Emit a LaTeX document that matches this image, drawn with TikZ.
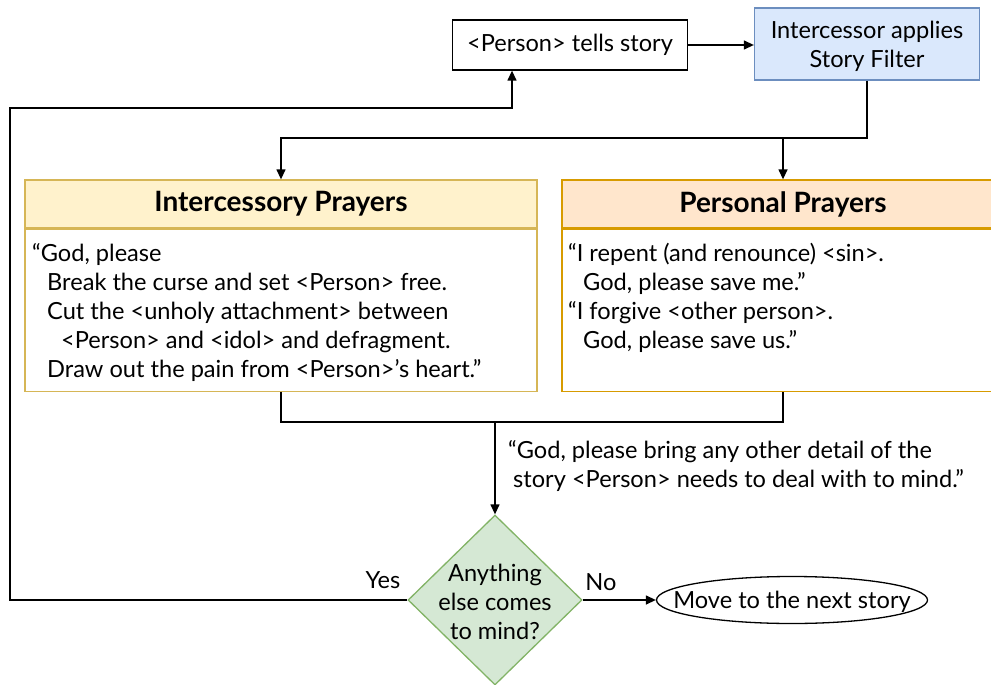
\documentclass[tikz,border=0pt]{standalone}
\usepackage{fontspec}
\setmainfont{Lato}
\usetikzlibrary{arrows.meta, shapes.geometric, calc}

\definecolor{filterfill}{HTML}{DAE8FC}
\definecolor{filterline}{HTML}{6C8EBF}
\definecolor{interfill}{HTML}{FFF2CC}
\definecolor{interline}{HTML}{D6B656}
\definecolor{perfill}{HTML}{FFE6CC}
\definecolor{perline}{HTML}{D79B00}
\definecolor{checkfill}{HTML}{D5E8D4}
\definecolor{checkline}{HTML}{82B366}

\tikzset{
  txt/.style={font=\fontsize{23.6}{29}\selectfont, inner sep=0pt},
  plain/.style={draw, line width=1.3pt, txt},
  head/.style={draw, line width=1.3pt, minimum height=48pt,
    font=\fontsize{28}{29}\selectfont\bfseries},
  flow/.style={line width=1.3pt, -{Triangle[length=10pt,width=9pt]}},
  link/.style={line width=1.3pt}
}

\begin{document}
\begin{tikzpicture}[x=1pt, y=-1pt]
\useasboundingbox (0,0) rectangle (991,685);

% top row
\node[plain, minimum width=235pt, minimum height=50pt] (tells) at (570,45) {<Person> tells story};
\node[plain, fill=filterfill, draw=filterline, minimum width=225pt, minimum height=72pt,
  align=center, text depth=-4pt] (filter) at (867,44) {Intercessor applies\\Story Filter};

% prayer boxes
\node[head, fill=interfill, draw=interline, minimum width=512pt] (interhead) at (281,204) {Intercessory Prayers};
\node[draw=interline, line width=1.3pt, minimum width=512pt, minimum height=162pt,
  anchor=north] (interbody) at (interhead.south) {};
\node[txt, align=left, anchor=north west] (intertext) at (32,243)
  {“God, please\\
   \hspace*{15pt}Break the curse and set <Person> free.\\
   \hspace*{15pt}Cut the <unholy attachment> between\\
   \hspace*{29pt}<Person> and <idol> and defragment.\\
   \hspace*{15pt}Draw out the pain from <Person>’s heart.”};

\node[head, fill=perfill, draw=perline, minimum width=442pt] (perhead) at (783,204) {Personal Prayers};
\node[draw=perline, line width=1.3pt, minimum width=442pt, minimum height=162pt,
  anchor=north] (perbody) at (perhead.south) {};
\node[txt, align=left, anchor=north west] (pertext) at (568,243)
  {“I repent (and renounce) <sin>.\\
   \hspace*{15pt}God, please save me.”\\
   “I forgive <other person>.\\
   \hspace*{15pt}God, please save us.”};

% decision and end
\node[diamond, draw=checkline, fill=checkfill, line width=1.3pt, inner sep=0pt,
  minimum width=174pt, minimum height=170pt,
  label={[txt, align=center, yshift=-2pt]center:Anything\\else comes\\to mind?}] (check) at (495,600) {};
\node[ellipse, draw, line width=1.3pt, inner sep=0pt, minimum width=271pt, minimum height=47pt,
  label={[txt, yshift=-2pt]center:Move to the next story}] (next) at (792,600) {};

\coordinate (split) at (867,138);
\coordinate (merge) at (495,422);
\coordinate (back) at (10,108);

% connectors
\draw[flow] (tells.east) -- (tells.east -| filter.west);
\draw[flow] (filter.south) |- (split -| interhead.north) -- (interhead.north);
\draw[flow] (split -| perhead.north) -- (perhead.north);
\draw[link] (interbody.south) |- (perbody.south |- merge) -- (perbody.south);
\draw[flow] (merge) -- (check.north);
\node[txt, align=left, anchor=north west] (ask) at (508,440)
  {“God, please bring any other detail of the\\
   \hspace*{5pt}story <Person> needs to deal with to mind.”};
\draw[flow] (check.west) -| (back) -| ([xshift=-58pt]tells.south);
\draw[flow] (check.east) -- (next.west);
\node[txt] (yes) at (383,580) {Yes};
\node[txt] (no) at (601,582) {No};
\end{tikzpicture}
\end{document}
